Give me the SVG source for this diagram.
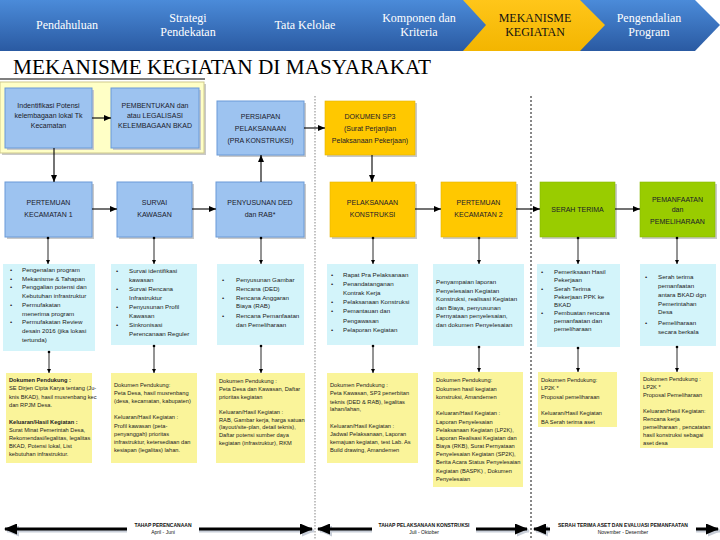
<svg xmlns="http://www.w3.org/2000/svg" width="720" height="540" viewBox="0 0 720 540">
<style>
.hdr{font-family:"Liberation Serif","Times New Roman",serif;font-size:12px;fill:#fff;text-anchor:middle}
.hdrA{font-family:"Liberation Serif","Times New Roman",serif;font-size:12px;fill:#111;text-anchor:middle}
.ttl{font-family:"Liberation Serif","Times New Roman",serif;font-size:20px;fill:#000}
.bx{font-family:"Liberation Sans",Arial,sans-serif;font-size:7px;fill:#1a1a2a;text-anchor:middle}
.bl{font-family:"Liberation Sans",Arial,sans-serif;font-size:6.2px;fill:#222}
.dc{font-family:"Liberation Sans",Arial,sans-serif;font-size:5.7px;fill:#222}
.b{font-weight:bold}
.tl{font-family:"Liberation Sans",Arial,sans-serif;font-size:5px;fill:#111;text-anchor:middle}
.blue{fill:#9DC3F0;stroke:#6A9AD8;stroke-width:1}
.yel{fill:#FFC800;stroke:#E5B400;stroke-width:0.6}
.grn{fill:#99CC00;stroke:#88B800;stroke-width:0.6}
.cy{fill:#D3F4FA}
.doc{fill:#FAF49A}
.sh{fill:#C9C9C9}
.con{stroke:#000;stroke-width:1.1;fill:none}
.vcon{stroke:#111;stroke-width:0.9;fill:none}
</style>
<defs>
<linearGradient id="hg" x1="0" y1="0" x2="0" y2="1"><stop offset="0" stop-color="#4B8BD9"/><stop offset="1" stop-color="#2A5AA2"/></linearGradient>
<linearGradient id="yg" x1="0" y1="0" x2="0" y2="1"><stop offset="0" stop-color="#FFC61A"/><stop offset="1" stop-color="#F3B500"/></linearGradient>
<marker id="ah" markerWidth="7" markerHeight="6" refX="7" refY="3" orient="auto" markerUnits="userSpaceOnUse"><path d="M0,0 L7,3 L0,6 z" fill="#000"/></marker>
<marker id="sa" markerWidth="4" markerHeight="4" refX="4" refY="2" orient="auto" markerUnits="userSpaceOnUse"><path d="M0,0 L4,2 L0,4 z" fill="#000"/></marker>
<marker id="dt" markerWidth="4" markerHeight="4" refX="2" refY="2" markerUnits="userSpaceOnUse"><circle cx="2" cy="2" r="1.3" fill="#000"/></marker>
<marker id="big" markerWidth="13" markerHeight="11" refX="12" refY="5.5" orient="auto-start-reverse" markerUnits="userSpaceOnUse"><path d="M0,0 L13,5.5 L0,11 z" fill="#000"/></marker>
<marker id="bigs" markerWidth="13" markerHeight="11" refX="12" refY="5.5" orient="auto-start-reverse" markerUnits="userSpaceOnUse"><path d="M0,0 L13,5.5 L0,11 z" fill="#C8CED8"/></marker>
</defs>
<rect width="720" height="540" fill="#fff"/>

<g id="header">
<polygon points="0,0 695,0 720,25 695,51 0,51" fill="url(#hg)"/>
<polygon points="463,0 580,0 605,25 580,51 463,51 486,25" fill="url(#yg)"/>
<text class="hdr" x="67" y="29">Pendahuluan</text>
<text class="hdr" x="188" y="22">Strategi</text>
<text class="hdr" x="188" y="36">Pendekatan</text>
<text class="hdr" x="305" y="29">Tata Kelolae</text>
<text class="hdr" x="419" y="22">Komponen dan</text>
<text class="hdr" x="419" y="36">Kriteria</text>
<text class="hdrA" x="535" y="22">MEKANISME</text>
<text class="hdrA" x="535" y="36">KEGIATAN</text>
<text class="hdr" x="649" y="22">Pengendalian</text>
<text class="hdr" x="649" y="36">Program</text>
</g>

<g id="title">
<text class="ttl" x="13" y="74" textLength="418" lengthAdjust="spacingAndGlyphs">MEKANISME KEGIATAN DI MASYARAKAT</text>
<line x1="0" y1="79" x2="205" y2="79" stroke="#000" stroke-width="1.2"/>
</g>

<g id="dividers">
<line x1="315" y1="96" x2="315" y2="540" stroke="#999" stroke-width="1.2" stroke-dasharray="1.5,1.5"/>
<line x1="531" y1="96" x2="531" y2="540" stroke="#111" stroke-width="1" stroke-dasharray="2,2"/>
</g>

<g id="panel">
<rect x="2" y="84" width="204" height="71" class="sh"/>
<rect x="0" y="82" width="204" height="71" fill="#FFFFC6" stroke="#CFC98C" stroke-width="1"/>
</g>

<g id="n-identifikasi">
<rect x="7" y="90" width="87" height="60" class="sh"/>
<rect x="5" y="88" width="87" height="60" class="blue"/>
<text class="bx" x="48.5" y="107.5">Indentifikasi Potensi</text>
<text class="bx" x="48.5" y="117.5">kelembagaan lokal Tk</text>
<text class="bx" x="48.5" y="127.5">Kecamatan</text>
</g>
<g id="n-pembentukan">
<rect x="113" y="90" width="88" height="60" class="sh"/>
<rect x="111" y="88" width="88" height="60" class="blue"/>
<text class="bx" x="155" y="107.5">PEMBENTUKAN dan</text>
<text class="bx" x="155" y="117.5">atau LEGALISASI</text>
<text class="bx" x="155" y="127.5">KELEMBAGAAN BKAD</text>
</g>
<g id="n-persiapan">
<rect x="219" y="103" width="87" height="54" class="sh"/>
<rect x="217" y="101" width="87" height="54" class="blue"/>
<text class="bx" x="260.5" y="118.5">PERSIAPAN</text>
<text class="bx" x="260.5" y="130.5">PELAKSANAAN</text>
<text class="bx" x="260.5" y="142.5">(PRA KONSTRUKSI)</text>
</g>
<g id="n-sp3">
<rect x="327" y="103" width="90" height="54" class="sh"/>
<rect x="325" y="101" width="90" height="54" class="yel"/>
<text class="bx" x="370" y="118.5">DOKUMEN SP3</text>
<text class="bx" x="370" y="130.5">(Surat Perjanjian</text>
<text class="bx" x="370" y="142.5">Pelaksanaan Pekerjaan)</text>
</g>

<g id="n-pertemuan1">
<rect x="7" y="184" width="87" height="55" class="sh"/>
<rect x="5" y="182" width="87" height="55" class="blue"/>
<text class="bx" x="48.5" y="205">PERTEMUAN</text>
<text class="bx" x="48.5" y="217">KECAMATAN 1</text>
</g>
<g id="n-survai">
<rect x="119" y="184" width="75" height="55" class="sh"/>
<rect x="117" y="182" width="75" height="55" class="blue"/>
<text class="bx" x="154.5" y="205">SURVAI</text>
<text class="bx" x="154.5" y="217">KAWASAN</text>
</g>
<g id="n-penyusunan">
<rect x="218" y="184" width="88" height="55" class="sh"/>
<rect x="216" y="182" width="88" height="55" class="blue"/>
<text class="bx" x="260" y="205">PENYUSUNAN  DED</text>
<text class="bx" x="260" y="217">dan RAB*</text>
</g>
<g id="n-pelaksanaan">
<rect x="332" y="184" width="85" height="55" class="sh"/>
<rect x="330" y="182" width="85" height="55" class="yel"/>
<text class="bx" x="372.5" y="205">PELAKSANAAN</text>
<text class="bx" x="372.5" y="217">KONSTRUKSI</text>
</g>
<g id="n-pertemuan2">
<rect x="443" y="184" width="75" height="55" class="sh"/>
<rect x="441" y="182" width="75" height="55" class="yel"/>
<text class="bx" x="478.5" y="205">PERTEMUAN</text>
<text class="bx" x="478.5" y="217">KECAMATAN 2</text>
</g>
<g id="n-serah">
<rect x="542" y="184" width="75" height="55" class="sh"/>
<rect x="540" y="182" width="75" height="55" class="grn"/>
<text class="bx" x="577.5" y="212">SERAH TERIMA</text>
</g>
<g id="n-pemanfaatan">
<rect x="642" y="184" width="75" height="55" class="sh"/>
<rect x="640" y="182" width="75" height="55" class="grn"/>
<text class="bx" x="677.5" y="201.5">PEMANFAATAN</text>
<text class="bx" x="677.5" y="211.5">dan</text>
<text class="bx" x="677.5" y="223.5">PEMELIHARAAN</text>
</g>

<g id="act-a">
<rect x="3" y="264" width="92" height="87" class="cy"/>
<g class="bl">
<text x="10" y="272">•</text><text x="22" y="272">Pengenalan program</text>
<text x="10" y="280.7">•</text><text x="22" y="280.7">Mekanisme &amp; Tahapan</text>
<text x="10" y="289.4">•</text><text x="22" y="289.4">Penggalian potensi dan</text>
<text x="22" y="298.1">Kebutuhan infrastruktur</text>
<text x="10" y="306.8">•</text><text x="22" y="306.8">Permufakatan</text>
<text x="22" y="315.5">menerima program</text>
<text x="10" y="324.2">•</text><text x="22" y="324.2">Permufakatan Review</text>
<text x="22" y="332.9">desain 2016 (jika lokasi</text>
<text x="22" y="341.6">tertunda)</text>
</g>
</g>
<g id="act-b">
<rect x="111" y="264" width="86" height="81" class="cy"/>
<g class="bl">
<text x="116" y="273">•</text><text x="129" y="273">Survai identifikasi</text>
<text x="129" y="282">kawasan</text>
<text x="116" y="291">•</text><text x="129" y="291">Survai Rencana</text>
<text x="129" y="300">Infrastruktur</text>
<text x="116" y="309">•</text><text x="129" y="309">Penyusunan Profil</text>
<text x="129" y="318">Kawasan</text>
<text x="116" y="327">•</text><text x="129" y="327">Sinkronisasi</text>
<text x="129" y="336">Perencanaan Reguler</text>
</g>
</g>
<g id="act-c">
<rect x="217" y="264" width="87" height="81" class="cy"/>
<g class="bl">
<text x="222" y="282">•</text><text x="236" y="282">Penyusunan  Gambar</text>
<text x="236" y="290.5">Rencana (DED)</text>
<text x="222" y="299.5">•</text><text x="236" y="299.5">Rencana Anggaran</text>
<text x="236" y="308">Biaya (RAB)</text>
<text x="222" y="318">•</text><text x="236" y="318">Rencana Pemanfaatan</text>
<text x="236" y="326.5">dan Pemeliharaan</text>
</g>
</g>
<g id="act-d">
<rect x="327" y="264" width="91" height="81" class="cy"/>
<g class="bl">
<text x="331" y="277">•</text><text x="343" y="277">Rapat Pra Pelaksanaan</text>
<text x="331" y="285.5">•</text><text x="343" y="285.5">Penandatanganan</text>
<text x="343" y="295">Kontrak Kerja</text>
<text x="331" y="304">•</text><text x="343" y="304">Pelaksanaan Konstruksi</text>
<text x="331" y="313">•</text><text x="343" y="313">Pemantauan dan</text>
<text x="343" y="323">Pengawasan</text>
<text x="331" y="332">•</text><text x="343" y="332">Pelaporan Kegiatan</text>
</g>
</g>
<g id="act-e">
<rect x="433" y="264" width="91" height="82" class="cy"/>
<g class="bl">
<text x="436" y="284">Penyampaian laporan</text>
<text x="436" y="292.5">Penyelesaian  Kegiatan</text>
<text x="436" y="301">Konstruksi, realisasi Kegiatan</text>
<text x="436" y="309.5">dan Biaya, penyusunan</text>
<text x="436" y="318">Pernyataan penyelesaian,</text>
<text x="436" y="326.5">dan dokumen  Penyelesaian</text>
</g>
</g>
<g id="act-f">
<rect x="537" y="264" width="83" height="83" class="cy"/>
<g class="bl">
<text x="541" y="274">•</text><text x="554" y="274">Pemeriksaan Hasil</text>
<text x="554" y="282">Pekerjaan</text>
<text x="541" y="290.5">•</text><text x="554" y="290.5">Serah Terima</text>
<text x="554" y="298.5">Pekerjaan PPK ke</text>
<text x="554" y="306.5">BKAD</text>
<text x="541" y="315">•</text><text x="554" y="315">Pembuatan rencana</text>
<text x="554" y="323">pemanfaatan dan</text>
<text x="554" y="331">pemeliharaan</text>
</g>
</g>
<g id="act-g">
<rect x="640" y="264" width="76" height="82" class="cy"/>
<g class="bl">
<text x="645" y="279">•</text><text x="658" y="279">Serah terima</text>
<text x="658" y="288">pemanfaatan</text>
<text x="658" y="296.5">antara BKAD dgn</text>
<text x="658" y="305.5">Pemerintahan</text>
<text x="658" y="314">Desa</text>
<text x="645" y="325">•</text><text x="658" y="325">Pemeliharaan</text>
<text x="658" y="334">secara berkala</text>
</g>
</g>

<g id="doc-a">
<rect x="6" y="373" width="86" height="90" class="doc"/>
<g class="dc">
<text x="9" y="382" class="b">Dokumen Pendukung :</text>
<text x="9" y="390">SE Dirjen Cipta Karya tentang (Ju-</text>
<text x="9" y="398.5">knis BKAD), hasil musrenbang kec</text>
<text x="9" y="407">dan RPJM Desa.</text>
<text x="9" y="424" class="b">Keluaran/Hasil Kegiatan :</text>
<text x="9" y="432">Surat Minat Pemerintah Desa,</text>
<text x="9" y="440">Rekomendasi/legalitas, legalitas</text>
<text x="9" y="448">BKAD, Potensi lokal, List</text>
<text x="9" y="456">kebutuhan infrastruktur.</text>
</g>
</g>
<g id="doc-b">
<rect x="111" y="373" width="86" height="90" class="doc"/>
<g class="dc">
<text x="114" y="387">Dokumen Pendukung:</text>
<text x="114" y="395">Peta Desa, hasil musrenbang</text>
<text x="114" y="403">(desa, kecamatan, kabupaten)</text>
<text x="114" y="419">Keluaran/Hasil Kegiatan :</text>
<text x="114" y="427.5">Profil kawasan (peta-</text>
<text x="114" y="435.5">penyanggah) prioritas</text>
<text x="114" y="443.5">infrastruktur, ketersediaan dan</text>
<text x="114" y="451.5">kesiapan (legalitas) lahan.</text>
</g>
</g>
<g id="doc-c">
<rect x="216" y="373" width="89" height="90" class="doc"/>
<g class="dc">
<text x="219" y="383">Dokumen Pendukung :</text>
<text x="219" y="391">Peta Desa dan Kawasan, Daftar</text>
<text x="219" y="399">prioritas kegiatan</text>
<text x="219" y="414">Keluaran/Hasil Kegiatan :</text>
<text x="219" y="421.5">RAB, Gambar kerja, harga satuan</text>
<text x="219" y="429">(layout/site-plan, detail teknis),</text>
<text x="219" y="437">Daftar potensi sumber daya</text>
<text x="219" y="444.5">kegiatan (infrastruktur), RKM</text>
</g>
</g>
<g id="doc-d">
<rect x="327" y="373" width="91" height="90" class="doc"/>
<g class="dc">
<text x="330" y="387">Dokumen Pendukung :</text>
<text x="330" y="395">Peta Kawasan, SP3 penerbitan</text>
<text x="330" y="403.5">teknis (DED &amp; RAB), legalitas</text>
<text x="330" y="410.5">lahan/lahan,</text>
<text x="330" y="428">Keluaran/Hasil Kegiatan :</text>
<text x="330" y="436">Jadwal Pelaksanaan, Laporan</text>
<text x="330" y="444">kemajuan kegiatan, test Lab. As</text>
<text x="330" y="452">Build drawing, Amandemen</text>
</g>
</g>
<g id="doc-e">
<rect x="433" y="372" width="90" height="115" class="doc"/>
<g class="dc">
<text x="436" y="382">Dokumen Pendukung:</text>
<text x="436" y="390.5">Dokumen hasil kegiatan</text>
<text x="436" y="399">konstruksi, Amandemen</text>
<text x="436" y="415">Keluaran/Hasil Kegiatan :</text>
<text x="436" y="423.5">Laporan Penyelesaian</text>
<text x="436" y="431.5">Pelaksanaan Kegiatan (LP2K),</text>
<text x="436" y="439.5">Laporan Realisasi Kegiatan dan</text>
<text x="436" y="447.5">Biaya (RKB), Surat Pernyataan</text>
<text x="436" y="455.5">Penyelesaian Kegiatan (SP2K),</text>
<text x="436" y="464">Berita Acara Status Penyelesaian</text>
<text x="436" y="472.5">Kegiatan (BASPK) , Dokumen</text>
<text x="436" y="480.5">Penyelesaian</text>
</g>
</g>
<g id="doc-f">
<rect x="538" y="372" width="79" height="55" class="doc"/>
<g class="dc">
<text x="541" y="382">Dokumen Pendukung:</text>
<text x="541" y="390">LP2K *</text>
<text x="541" y="398.5">Proposal pemeliharaan</text>
<text x="541" y="415">Keluaran/Hasil Kegiatan</text>
<text x="541" y="423.5">BA Serah terima aset</text>
</g>
</g>
<g id="doc-g">
<rect x="640" y="372" width="73" height="76" class="doc"/>
<g class="dc">
<text x="643" y="381">Dokumen Pendukung :</text>
<text x="643" y="389">LP2K *</text>
<text x="643" y="396.5">Proposal Pemeliharaan</text>
<text x="643" y="413">Keluaran/Hasil Kegiatan:</text>
<text x="643" y="421">Rencana kerja</text>
<text x="643" y="429">pemeliharaan , pencatatan</text>
<text x="643" y="437">hasil konstruksi sebagai</text>
<text x="643" y="445">aset desa</text>
</g>
</g>

<g id="connectors">
<line class="con" x1="92" y1="118" x2="111" y2="118" marker-end="url(#ah)"/>
<line class="con" x1="304" y1="128" x2="325" y2="128" marker-end="url(#ah)"/>
<line class="con" x1="54" y1="148" x2="54" y2="182" marker-end="url(#ah)"/>
<line class="con" x1="261" y1="182" x2="261" y2="155" marker-end="url(#ah)"/>
<line class="con" x1="372" y1="155" x2="372" y2="182" marker-end="url(#ah)"/>
<line class="con" x1="92" y1="209" x2="117" y2="209" marker-end="url(#ah)"/>
<line class="con" x1="192" y1="209" x2="216" y2="209" marker-end="url(#ah)"/>
<line class="con" x1="415" y1="209" x2="441" y2="209" marker-end="url(#ah)"/>
<line class="con" x1="516" y1="209" x2="540" y2="209" marker-end="url(#ah)"/>
<line class="con" x1="615" y1="209" x2="640" y2="209" marker-end="url(#ah)"/>
<g class="vcon">
<line x1="48" y1="238" x2="48" y2="264" marker-start="url(#dt)" marker-end="url(#sa)"/>
<line x1="154" y1="238" x2="154" y2="264" marker-start="url(#dt)" marker-end="url(#sa)"/>
<line x1="261" y1="238" x2="261" y2="264" marker-start="url(#dt)" marker-end="url(#sa)"/>
<line x1="373" y1="238" x2="373" y2="264" marker-start="url(#dt)" marker-end="url(#sa)"/>
<line x1="479" y1="238" x2="479" y2="264" marker-start="url(#dt)" marker-end="url(#sa)"/>
<line x1="578" y1="238" x2="578" y2="264" marker-start="url(#dt)" marker-end="url(#sa)"/>
<line x1="677" y1="238" x2="677" y2="264" marker-start="url(#dt)" marker-end="url(#sa)"/>
<line x1="49" y1="352" x2="49" y2="373" marker-start="url(#dt)" marker-end="url(#sa)"/>
<line x1="154" y1="346" x2="154" y2="373" marker-start="url(#dt)" marker-end="url(#sa)"/>
<line x1="261" y1="346" x2="261" y2="373" marker-start="url(#dt)" marker-end="url(#sa)"/>
<line x1="373" y1="346" x2="373" y2="373" marker-start="url(#dt)" marker-end="url(#sa)"/>
<line x1="479" y1="347" x2="479" y2="372" marker-start="url(#dt)" marker-end="url(#sa)"/>
<line x1="578" y1="348" x2="578" y2="372" marker-start="url(#dt)" marker-end="url(#sa)"/>
<line x1="677" y1="347" x2="677" y2="372" marker-start="url(#dt)" marker-end="url(#sa)"/>
</g>
</g>

<g id="timeline">
<line x1="7" y1="531" x2="314" y2="531" stroke="#C8CED8" stroke-width="3" marker-start="url(#bigs)" marker-end="url(#bigs)"/>
<line x1="5" y1="529" x2="312" y2="529" stroke="#000" stroke-width="3" marker-start="url(#big)" marker-end="url(#big)"/>
<rect x="127" y="521" width="72" height="16" fill="#fff"/>
<text class="tl b" x="163" y="527">TAHAP PERENCANAAN</text>
<text class="tl" x="163" y="534">April - Juni</text>
<line x1="320" y1="531" x2="529" y2="531" stroke="#C8CED8" stroke-width="3" marker-start="url(#bigs)" marker-end="url(#bigs)"/>
<line x1="318" y1="529" x2="527" y2="529" stroke="#000" stroke-width="3" marker-start="url(#big)" marker-end="url(#big)"/>
<rect x="372" y="521" width="104" height="16" fill="#fff"/>
<text class="tl b" x="424" y="527">TAHAP PELAKSANAAN KONSTRUKSI</text>
<text class="tl" x="424" y="534">Juli - Oktober</text>
<line x1="536" y1="531" x2="720" y2="531" stroke="#C8CED8" stroke-width="3" marker-start="url(#bigs)" marker-end="url(#bigs)"/>
<line x1="534" y1="529" x2="718" y2="529" stroke="#000" stroke-width="3" marker-start="url(#big)" marker-end="url(#big)"/>
<rect x="550" y="521" width="146" height="16" fill="#fff"/>
<text class="tl b" x="623" y="527">SERAH TERIMA ASET DAN EVALUASI PEMANFAATAN</text>
<text class="tl" x="623" y="534">November - Desember</text>
</g>
</svg>
